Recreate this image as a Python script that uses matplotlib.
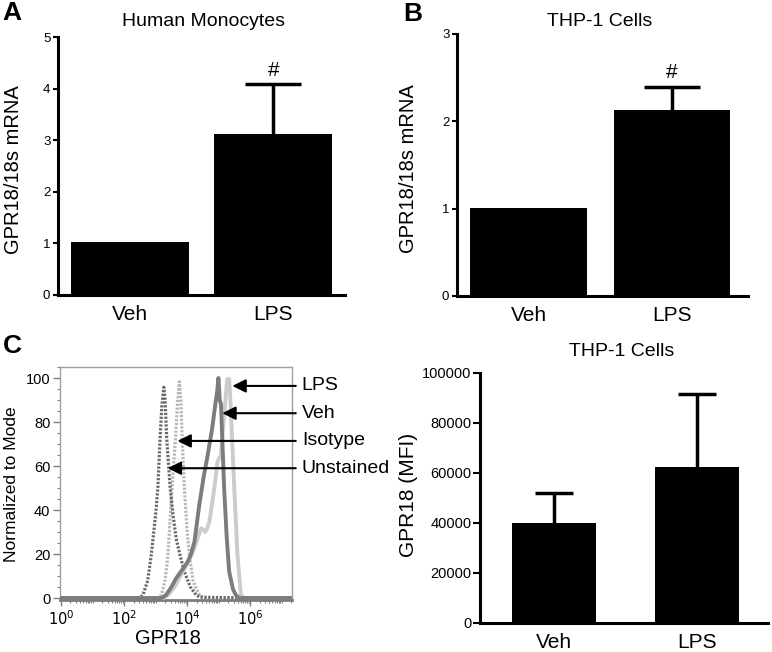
import numpy as np
import matplotlib
matplotlib.use('Agg')
import matplotlib.pyplot as plt
from matplotlib.ticker import LogLocator, MultipleLocator, FixedLocator, NullFormatter

plt.rcParams['font.family'] = ['Liberation Sans', 'DejaVu Sans']

# ---------- Dati ---------- #
groups = ['Veh', 'LPS']

# A - Human Monocytes (mRNA)
mono_mean = [1.02, 3.12]
mono_err = [0.0, 0.96]

# B - THP-1 (mRNA)
thp_mean = [1.01, 2.13]
thp_err = [0.0, 0.26]

# D - THP-1 (MFI)
mfi_mean = [40200, 62600]
mfi_err = [11700, 29000]

# C - istogrammi (log10 GPR18, % of mode)
unst_logx = [0.0, 2.5, 2.6, 2.75, 2.86, 3.0, 3.07, 3.14, 3.2, 3.26, 3.3, 3.35,
             3.46, 3.55, 3.65, 3.78, 3.91, 4.1, 4.28, 4.4, 5.0, 7.3]
unst_y = [0, 0, 1.5, 8, 19.5, 38, 50, 72.6, 88, 95.8, 90, 72.6,
          50, 38, 27, 19, 12, 5, 1.4, 0.4, 0.2, 0]

iso_logx = [0.0, 3.05, 3.18, 3.3, 3.39, 3.52, 3.63, 3.7, 3.75, 3.8, 3.84,
            3.91, 4.0, 4.07, 4.18, 4.28, 4.4, 4.6, 7.3]
iso_y = [0, 0, 1.4, 8, 19.5, 50, 72.6, 90, 98.3, 90, 72.6,
         50, 30, 19.5, 8, 4.4, 1, 0, 0]

veh_logx = [0.0, 3.2, 3.33, 3.5, 3.65, 3.85, 4.02, 4.12, 4.23, 4.38, 4.52, 4.65,
            4.79, 4.89, 4.95, 4.99, 5.03, 5.07, 5.17, 5.25, 5.33, 5.45, 5.54, 5.65, 7.3]
veh_y = [0, 0, 1.4, 5, 9, 13, 16.5, 20, 25.6, 42, 55, 65,
         77, 88, 94, 100, 90, 88, 50, 28, 12, 4, 1.4, 0, 0]

lps_logx = [0.0, 3.25, 3.4, 3.6, 3.86, 4.05, 4.23, 4.35, 4.44, 4.52, 4.57, 4.63,
            4.70, 4.78, 4.86, 4.96, 5.07, 5.15, 5.2, 5.24, 5.27, 5.33, 5.36, 5.40,
            5.49, 5.59, 5.70, 5.8, 7.3]
lps_y = [0, 0, 1.4, 5, 12, 17, 22.6, 28, 31.7, 31, 30, 31.5,
         34.7, 42, 50, 62, 65, 80, 88, 95, 99.5, 99.5, 92, 80,
         50, 20, 1.4, 0, 0]

# etichette frecce: (testo, log10 x punta, y)
arrow_labels = ['LPS', 'Veh', 'Isotype', 'Unstained']
arrow_tip_logx = [5.43, 5.11, 3.69, 3.38]
arrow_y = [96.4, 84, 71.4, 59]

W, H = 772, 652


def px_rect(left, top, right, bottom):
    return [left / W, 1 - bottom / H, (right - left) / W, (bottom - top) / H]


def fx(x):
    return x / W


def fy(y):
    return 1 - y / H


def bar_panel(ax, means, errs, width, capsize, ylim, yticks, tick_size, tick_len):
    x = np.arange(len(groups))
    ax.bar(x, means, width=width, color='black', zorder=2)
    # solo la barra d'errore superiore
    for xi, m, e in zip(x, means, errs):
        if e > 0:
            ax.vlines(xi, m, m + e, color='black', lw=2.5, zorder=3)
            ax.plot([xi], [m + e], marker='_', markersize=2 * capsize,
                    mew=2.5, color='black', zorder=3, clip_on=False)
    ax.set_ylim(*ylim)
    ax.set_yticks(yticks)
    ax.set_xticks(x)
    ax.set_xticklabels(groups, fontsize=15)
    ax.tick_params(axis='x', length=0, pad=7)
    ax.tick_params(axis='y', labelsize=tick_size, length=tick_len, width=1.5, pad=2)
    for s in ['top', 'right']:
        ax.spines[s].set_visible(False)
    for s in ['left', 'bottom']:
        ax.spines[s].set_linewidth(2.2)
    return x


fig = plt.figure(figsize=(W / 100, H / 100), dpi=100)

# ---------- A ---------- #
axA = fig.add_axes(px_rect(58, 37, 345, 295))
bar_panel(axA, mono_mean, mono_err, 0.82, 20, (0, 5), range(0, 6), 9.5, 3.5)
axA.set_xlim(-0.5, 1.5)
axA.annotate('#', xy=(1, mono_mean[1] + mono_err[1]), xytext=(0, 3),
             textcoords='offset points', ha='center', va='bottom', fontsize=15)
fig.text(fx(203), fy(21), 'Human Monocytes', ha='center', va='center', fontsize=14)
fig.text(fx(14), fy(170), 'GPR18/18s mRNA', ha='center', va='center',
         rotation=90, fontsize=14.5)
fig.text(fx(12), fy(13), 'A', ha='center', va='center', fontsize=19, fontweight='bold')

# ---------- B ---------- #
axB = fig.add_axes(px_rect(457, 34, 748, 296))
bar_panel(axB, thp_mean, thp_err, 0.815, 20, (0, 3), range(0, 4), 9.5, 3.5)
axB.set_xlim(-0.5, 1.53)
axB.annotate('#', xy=(1, thp_mean[1] + thp_err[1]), xytext=(0, 4),
             textcoords='offset points', ha='center', va='bottom', fontsize=15)
fig.text(fx(600), fy(21), 'THP-1 Cells', ha='center', va='center', fontsize=14)
fig.text(fx(408), fy(169), 'GPR18/18s mRNA', ha='center', va='center',
         rotation=90, fontsize=14.5)
fig.text(fx(413), fy(14), 'B', ha='center', va='center', fontsize=19, fontweight='bold')

# ---------- D ---------- #
axD = fig.add_axes(px_rect(480, 373, 768, 623))
bar_panel(axD, mfi_mean, mfi_err, 0.59, 14, (0, 100000), range(0, 100001, 20000), 10.5, 5)
axD.set_xlim(-0.52, 1.5)
axD.tick_params(axis='y', pad=1)
fig.text(fx(622), fy(351), 'THP-1 Cells', ha='center', va='center', fontsize=14)
fig.text(fx(408), fy(495), 'GPR18 (MFI)', ha='center', va='center',
         rotation=90, fontsize=15)

# ---------- C ---------- #
axC = fig.add_axes(px_rect(60, 367, 292, 600))
dot = (0, (0.7, 0.5))
axC.plot(10 ** np.array(iso_logx), iso_y, color='#b8b8b8', lw=2.3, linestyle=dot, zorder=2)
axC.plot(10 ** np.array(unst_logx), unst_y, color='#6a6a6a', lw=2.3, linestyle=dot, zorder=3)
axC.plot(10 ** np.array(lps_logx), lps_y, color='#cccccc', lw=2.8, zorder=4)
axC.plot(10 ** np.array(veh_logx), veh_y, color='#7c7c7c', lw=2.8, zorder=5)
axC.set_xscale('log')
axC.set_xlim(10 ** -0.03, 10 ** 7.32)
axC.set_ylim(-0.9, 105)

axC.xaxis.set_major_locator(FixedLocator([1, 1e2, 1e4, 1e6]))
axC.set_xticklabels(['$10^0$', '$10^2$', '$10^4$', '$10^6$'])
axC.xaxis.set_minor_locator(LogLocator(base=10, subs=np.arange(1, 10), numticks=20))
axC.xaxis.set_minor_formatter(NullFormatter())
axC.yaxis.set_major_locator(MultipleLocator(20))
axC.yaxis.set_minor_locator(MultipleLocator(5))
axC.tick_params(axis='x', which='major', labelsize=10.5, length=4, width=1, color='#808080', pad=3)
axC.tick_params(axis='x', which='minor', length=2.5, width=0.8, color='#808080')
axC.tick_params(axis='y', which='major', labelsize=10.5, length=5, width=1, color='#808080', pad=2)
axC.tick_params(axis='y', which='minor', length=2.5, width=0.8, color='#808080')
for s in ['top', 'right', 'left']:
    axC.spines[s].set_color('#a0a0a0')
    axC.spines[s].set_linewidth(1)
axC.spines['bottom'].set_color('#7c7c7c')
axC.spines['bottom'].set_linewidth(2)

# frecce e etichette separate
for label, tip, yv in zip(arrow_labels, arrow_tip_logx, arrow_y):
    axC.annotate('', xy=(10 ** tip, yv), xytext=(10 ** 7.44, yv),
                 annotation_clip=False, zorder=10,
                 arrowprops=dict(arrowstyle='-|>', color='black', lw=1.5,
                                 mutation_scale=20, shrinkA=0, shrinkB=0))
    axC.text(10 ** 7.63, yv, label, ha='left', va='center', fontsize=14, clip_on=False)

fig.text(fx(168), fy(638), 'GPR18', ha='center', va='center', fontsize=14.5)
fig.text(fx(12), fy(484), 'Normalized to Mode', ha='center', va='center',
         rotation=90, fontsize=12.5)
fig.text(fx(12), fy(346), 'C', ha='center', va='center', fontsize=19, fontweight='bold')

fig.savefig('out.png', dpi=100)
plt.close(fig)
